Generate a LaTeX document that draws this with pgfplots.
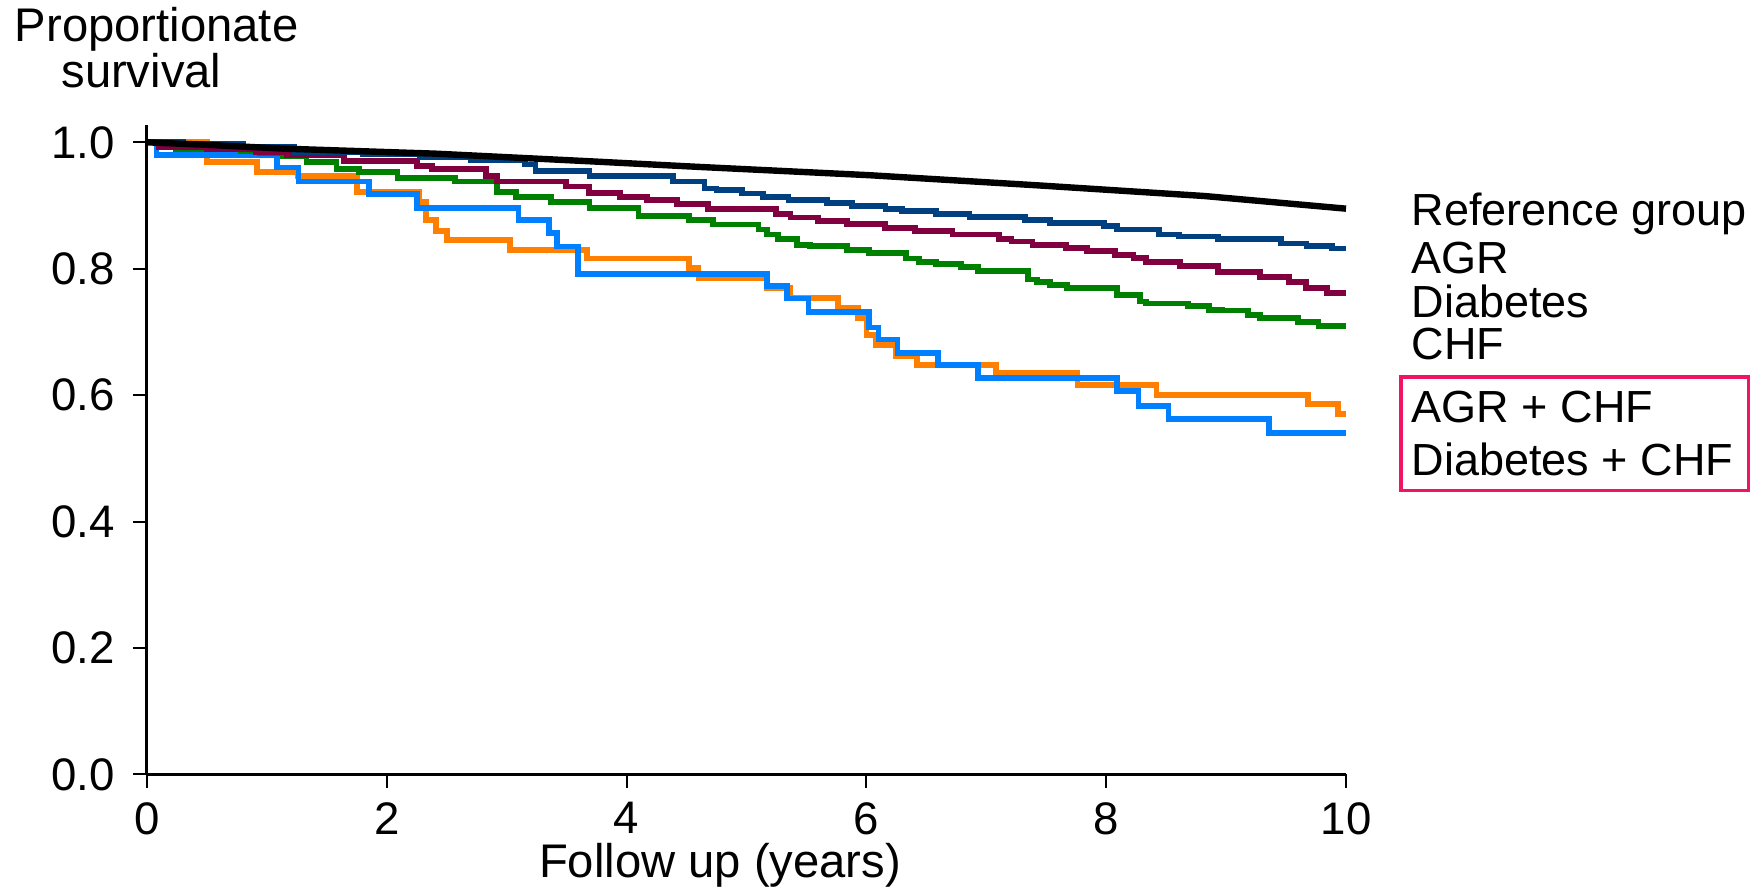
\documentclass[border=0pt]{standalone}
\usepackage{pgfplots}
\pgfplotsset{compat=1.18}
\usepackage{fontspec}
\setmainfont{Liberation Sans}
\definecolor{cAGR}{RGB}{0,64,128}
\definecolor{cDiab}{RGB}{128,0,64}
\definecolor{cCHF}{RGB}{0,128,0}
\definecolor{cAGRCHF}{RGB}{255,128,0}
\definecolor{cDiabCHF}{RGB}{0,128,255}
\definecolor{cBox}{RGB}{240,20,100}
\begin{document}
\begin{tikzpicture}
\useasboundingbox (-36.75pt,-28.93pt) rectangle (404pt,193.58pt);
\begin{axis}[
  at={(0pt,0pt)}, anchor=south west, scale only axis,
  width=299.75pt, height=162.27pt,
  xmin=0, xmax=10, ymin=0, ymax=1.027,
  axis lines*=left, axis line style={line width=0.75pt},
  xtick={0,2,4,6,8,10}, ytick={0,0.2,0.4,0.6,0.8,1},
  tick align=outside, major tick length=3.5pt,
  tick style={line width=0.5pt, black},
  yticklabel style={xshift=-1pt, /pgf/number format/.cd, fixed, fixed zerofill, precision=1},
  ticklabel style={font=\fontsize{11.4}{13}\selectfont},
  /pgf/number format/assume math mode=true,
  clip=false,
  every axis plot/.append style={line width=1.45pt},
]
% AGR + CHF
\addplot[const plot, color=cAGRCHF] coordinates {
(0,1.0) (0.50,0.969) (0.92,0.953) (1.26,0.947) (1.75,0.922) (2.27,0.905) (2.33,0.877) (2.41,0.860) (2.50,0.846) (3.03,0.830) (3.67,0.816) (4.52,0.8006) (4.60,0.785) (5.17,0.769) (5.36,0.754) (5.76,0.738) (5.93,0.722) (6.0,0.695) (6.08,0.679) (6.25,0.662) (6.42,0.648) (7.08,0.6355) (7.76,0.616) (8.42,0.600) (9.68,0.586) (9.93,0.570) (10,0.570)
};
% Diabetes + CHF
\addplot[const plot, color=cDiabCHF] coordinates {
(0,1.0) (0.08,0.980) (1.086,0.960) (1.263,0.938) (1.853,0.918) (2.252,0.896) (3.098,0.877) (3.353,0.856) (3.417,0.835) (3.593,0.792) (5.17,0.773) (5.34,0.753) (5.517,0.731) (6.02,0.707) (6.10,0.688) (6.26,0.667) (6.60,0.648) (6.93,0.627) (8.09,0.606) (8.27,0.583) (8.52,0.562) (9.36,0.540) (10,0.540)
};
% CHF
\addplot[const plot, color=cCHF] coordinates {
(0,1.0) (0.24,0.990) (0.78,0.986) (0.94,0.983) (1.13,0.978) (1.33,0.969) (1.58,0.958) (1.77,0.953) (2.09,0.944) (2.57,0.938) (2.92,0.922) (3.08,0.913) (3.37,0.906) (3.69,0.896) (4.10,0.883) (4.52,0.877) (4.72,0.870) (5.10,0.862) (5.17,0.854) (5.26,0.847) (5.42,0.838) (5.53,0.836) (5.84,0.829) (6.02,0.825) (6.33,0.816) (6.44,0.811) (6.58,0.807) (6.79,0.803) (6.93,0.796) (7.35,0.783) (7.42,0.779) (7.53,0.774) (7.67,0.769) (8.09,0.758) (8.28,0.748) (8.33,0.745) (8.68,0.741) (8.86,0.735) (8.97,0.734) (9.18,0.727) (9.28,0.722) (9.60,0.716) (9.77,0.709) (10,0.709)
};
% Diabetes
\addplot[const plot, color=cDiab] coordinates {
(0,1.0) (0.1,0.993) (0.5,0.99) (0.91,0.985) (1.17,0.980) (1.645,0.971) (2.252,0.963) (2.38,0.958) (2.827,0.947) (2.922,0.938) (3.497,0.930) (3.688,0.920) (3.944,0.913) (4.167,0.909) (4.422,0.902) (4.678,0.894) (5.244,0.886) (5.367,0.881) (5.595,0.876) (5.84,0.871) (6.157,0.864) (6.402,0.860) (6.718,0.854) (7.104,0.847) (7.21,0.843) (7.385,0.838) (7.666,0.833) (7.841,0.828) (8.07,0.822) (8.227,0.817) (8.333,0.811) (8.613,0.804) (8.93,0.795) (9.28,0.787) (9.526,0.779) (9.666,0.769) (9.842,0.761) (10,0.761)
};
% AGR
\addplot[const plot, color=cAGR] coordinates {
(0,1.0) (0.3,0.997) (0.8,0.993) (1.23,0.985) (1.8,0.981) (2.28,0.977) (2.7,0.972) (3.15,0.965) (3.24,0.955) (3.69,0.947) (4.39,0.938) (4.65,0.927) (4.75,0.924) (4.96,0.919) (5.14,0.913) (5.35,0.909) (5.67,0.904) (5.88,0.899) (6.16,0.894) (6.30,0.891) (6.58,0.886) (6.86,0.882) (7.32,0.877) (7.53,0.872) (7.98,0.867) (8.09,0.862) (8.44,0.854) (8.61,0.851) (8.93,0.847) (9.46,0.840) (9.67,0.836) (9.88,0.832) (10,0.832)
};
% Reference group
\addplot[color=black, line width=1.6pt] coordinates {
(0,1.0) (0.5,0.996) (1.14,0.99) (2.41,0.982) (3.69,0.970) (4.61,0.961) (6.02,0.948) (7.42,0.932) (8.82,0.915) (10,0.895)
};
\end{axis}
\begin{scope}[every node/.style={inner sep=0pt}]
\node[anchor=base, font=\fontsize{11.8}{14}\selectfont] at (2.4pt,183.2pt) {Proportionate};
\node[anchor=base, font=\fontsize{11.8}{14}\selectfont] at (-1.4pt,171.6pt) {survival};
\node[anchor=base, font=\fontsize{11.8}{14}\selectfont] at (143.25pt,-25.9pt) {Follow up (years)};
\node[anchor=base west, font=\fontsize{11.25}{13}\selectfont] at (316pt,137.1pt) {Reference group};
\node[anchor=base west, font=\fontsize{11.25}{13}\selectfont] at (316pt,125.3pt) {AGR};
\node[anchor=base west, font=\fontsize{11.25}{13}\selectfont] at (316pt,114.3pt) {Diabetes};
\node[anchor=base west, font=\fontsize{11.25}{13}\selectfont] at (316pt,103.6pt) {CHF};
\node[anchor=base west, font=\fontsize{11.25}{13}\selectfont] at (316pt,87.9pt) {AGR + CHF};
\node[anchor=base west, font=\fontsize{11.25}{13}\selectfont] at (316pt,74.7pt) {Diabetes + CHF};
\end{scope}
\draw[cBox, line width=0.9pt] (313.5pt,71pt) rectangle (400.4pt,99.4pt);
\end{tikzpicture}
\end{document}
